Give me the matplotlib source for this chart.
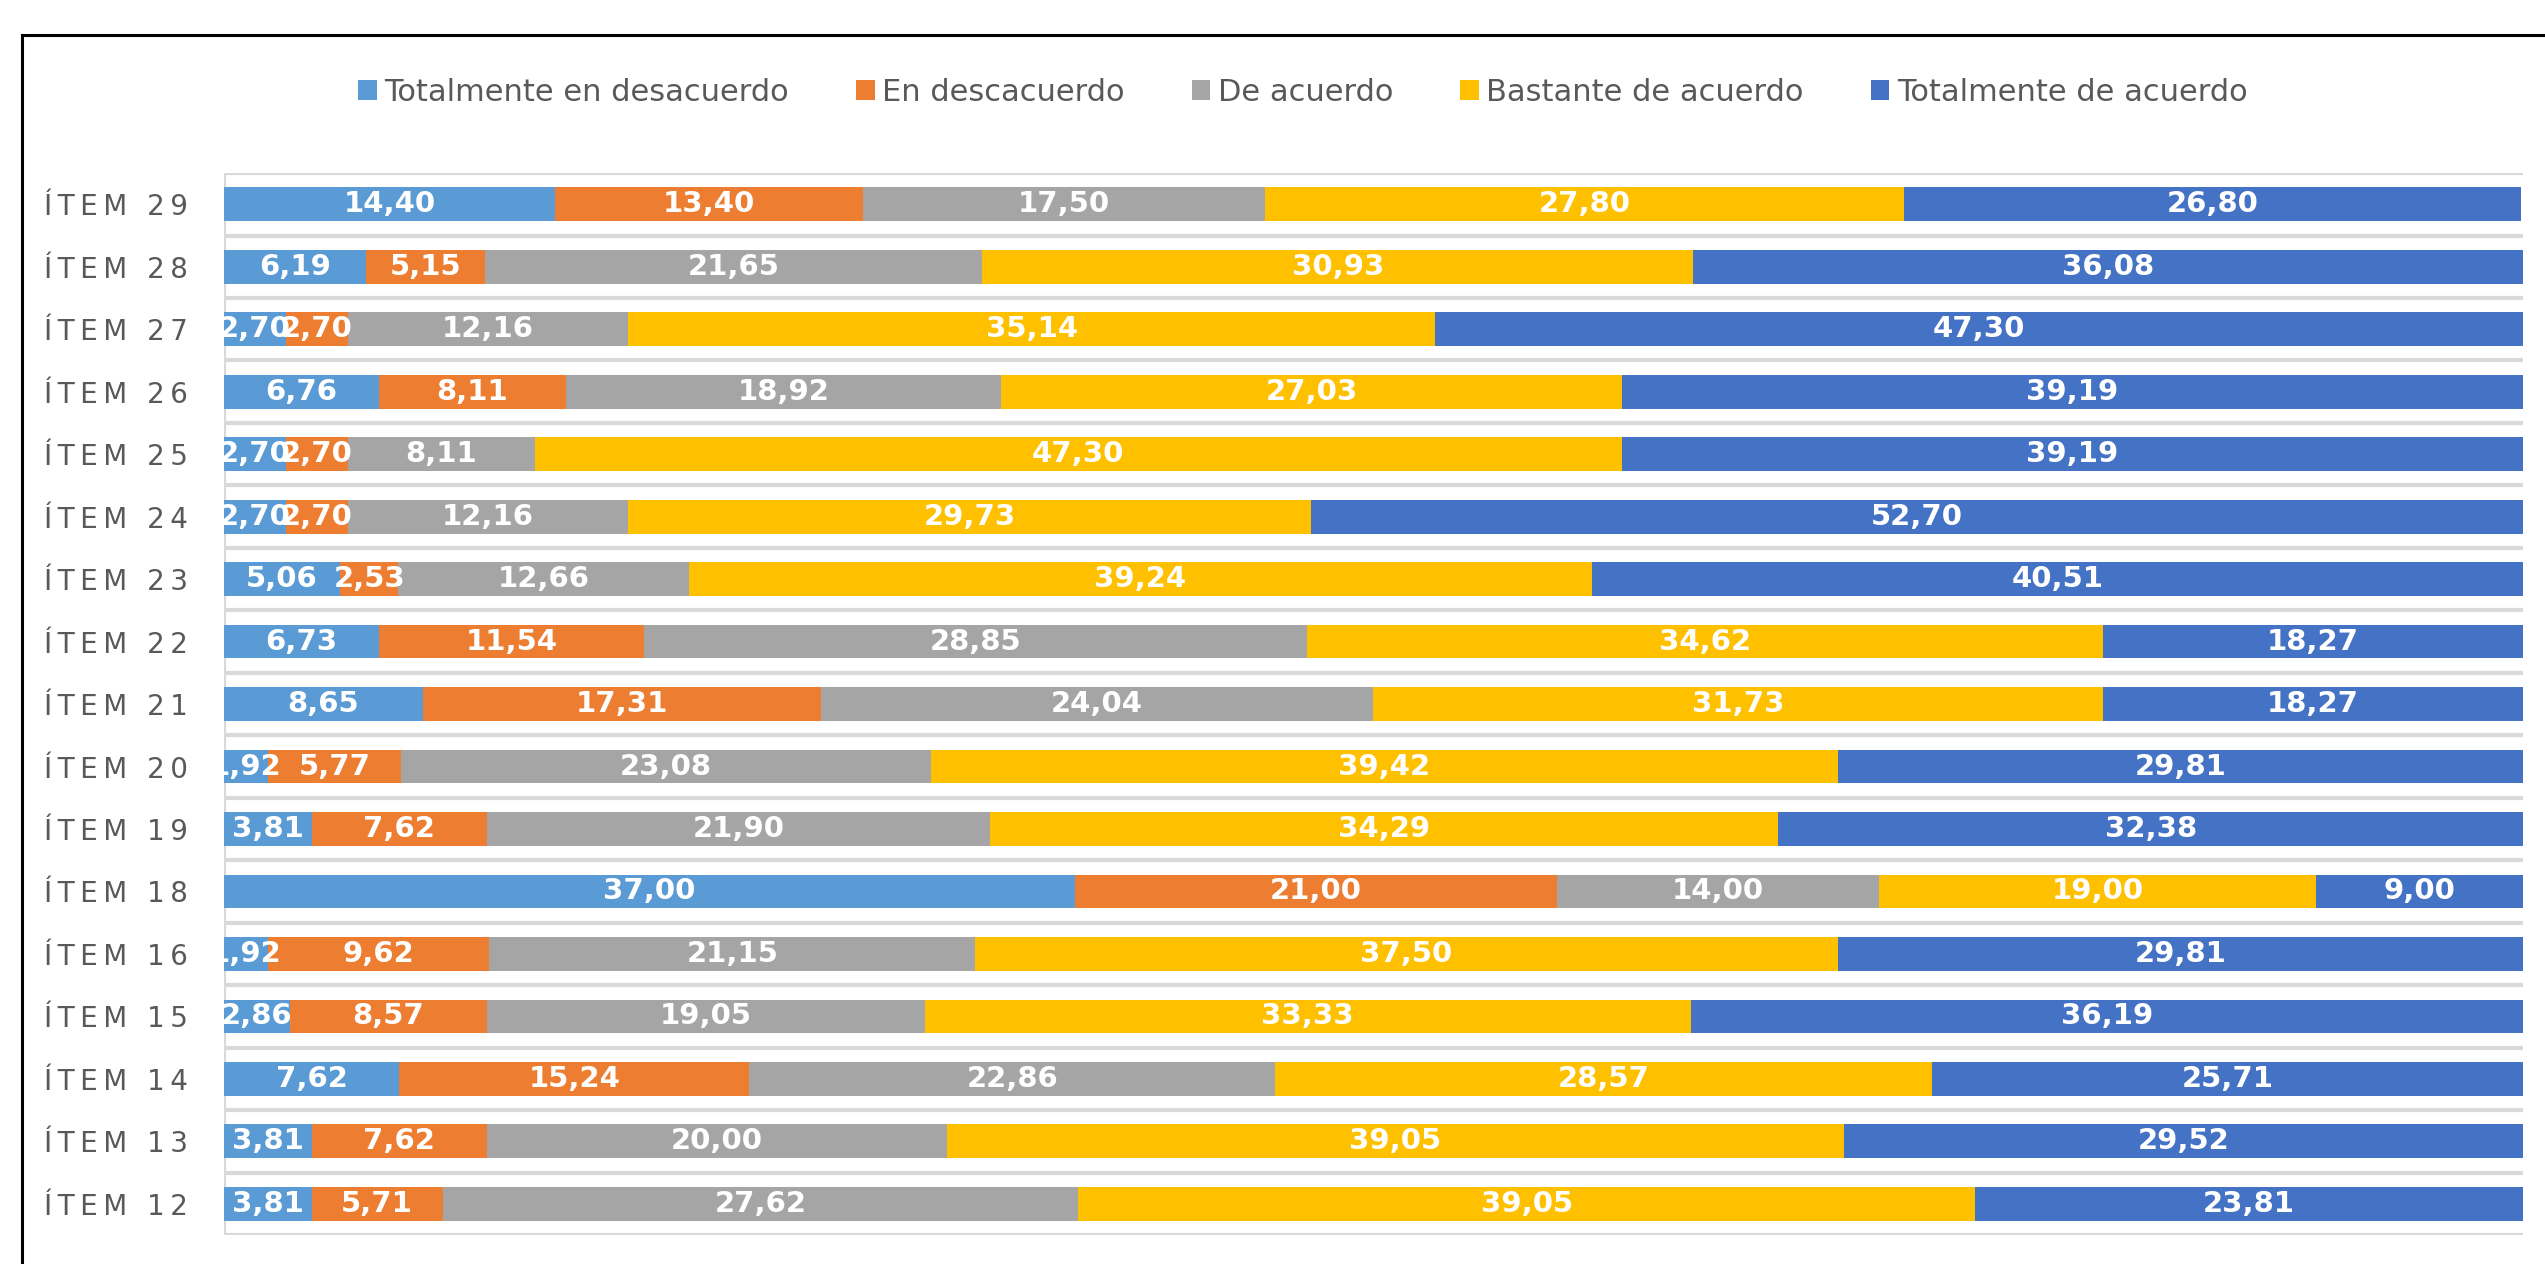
import matplotlib
matplotlib.use("Agg")
import matplotlib.pyplot as plt
from matplotlib.lines import Line2D
import numpy as np

items = ["ÍTEM 12", "ÍTEM 13", "ÍTEM 14", "ÍTEM 15", "ÍTEM 16", "ÍTEM 18", "ÍTEM 19",
         "ÍTEM 20", "ÍTEM 21", "ÍTEM 22", "ÍTEM 23", "ÍTEM 24", "ÍTEM 25", "ÍTEM 26",
         "ÍTEM 27", "ÍTEM 28", "ÍTEM 29"]
series_names = ["Totalmente en desacuerdo", "En descacuerdo", "De acuerdo",
                "Bastante de acuerdo", "Totalmente de acuerdo"]

tot_desacuerdo = [3.81, 3.81, 7.62, 2.86, 1.92, 37.00, 3.81, 1.92, 8.65, 6.73, 5.06,
                  2.70, 2.70, 6.76, 2.70, 6.19, 14.40]
en_desacuerdo = [5.71, 7.62, 15.24, 8.57, 9.62, 21.00, 7.62, 5.77, 17.31, 11.54, 2.53,
                 2.70, 2.70, 8.11, 2.70, 5.15, 13.40]
de_acuerdo = [27.62, 20.00, 22.86, 19.05, 21.15, 14.00, 21.90, 23.08, 24.04, 28.85, 12.66,
              12.16, 8.11, 18.92, 12.16, 21.65, 17.50]
bastante = [39.05, 39.05, 28.57, 33.33, 37.50, 19.00, 34.29, 39.42, 31.73, 34.62, 39.24,
            29.73, 47.30, 27.03, 35.14, 30.93, 27.80]
tot_acuerdo = [23.81, 29.52, 25.71, 36.19, 29.81, 9.00, 32.38, 29.81, 18.27, 18.27, 40.51,
               52.70, 39.19, 39.19, 47.30, 36.08, 26.80]

colors = ["#5B9BD5", "#ED7D31", "#A5A5A5", "#FFC000", "#4472C4"]
series = [tot_desacuerdo, en_desacuerdo, de_acuerdo, bastante, tot_acuerdo]

fig = plt.figure(figsize=(25.45, 12.64), dpi=100)
ax = fig.add_axes([0.088, 0.0229, 0.9033, 0.8402])

y = np.arange(len(items))
left = np.zeros(len(items))
handles = []
for vals, col, name in zip(series, colors, series_names):
    vals = np.array(vals)
    b = ax.barh(y, vals, left=left, height=0.54, color=col, label=name, zorder=3)
    handles.append(b)
    for yi, l, v in zip(y, left, vals):
        ax.text(l + v / 2, yi, f"{v:.2f}".replace(".", ","), ha="center", va="center",
                color="white", fontsize=21, fontweight="bold", clip_on=True, zorder=4)
    left = left + vals

ax.set_xlim(0, 100)
ax.set_ylim(-0.5, len(items) - 0.5)
# separadores entre categorias
for g in np.arange(-0.5, len(items), 1.0):
    ax.axhline(g, color="#D9D9D9", lw=3, zorder=1)
ax.axvline(0, color="#D9D9D9", lw=3, zorder=1)

for s in ax.spines.values():
    s.set_visible(False)
ax.set_xticks([])
ax.set_yticks(y)
# etiquetas espaciadas como en el original
ax.set_yticklabels(["\u2009".join(list(t)) for t in items], fontsize=20, color="#595959")
ax.tick_params(axis="y", length=0, pad=26)

fig.legend(handles=handles, loc="center", bbox_to_anchor=(0.512, 0.927), ncol=5,
           frameon=False, fontsize=22, labelcolor="#595959", handlelength=0.6,
           handleheight=0.6, handletextpad=0.25, columnspacing=2.2)

# borde del area del grafico
bx = 22 / 2545
by = 1 - 35 / 1264
fig.add_artist(Line2D([bx, bx], [0, by], color="black", lw=2.2, transform=fig.transFigure))
fig.add_artist(Line2D([bx, 1], [by, by], color="black", lw=2.2, transform=fig.transFigure))

fig.savefig("out.png", dpi=100)
